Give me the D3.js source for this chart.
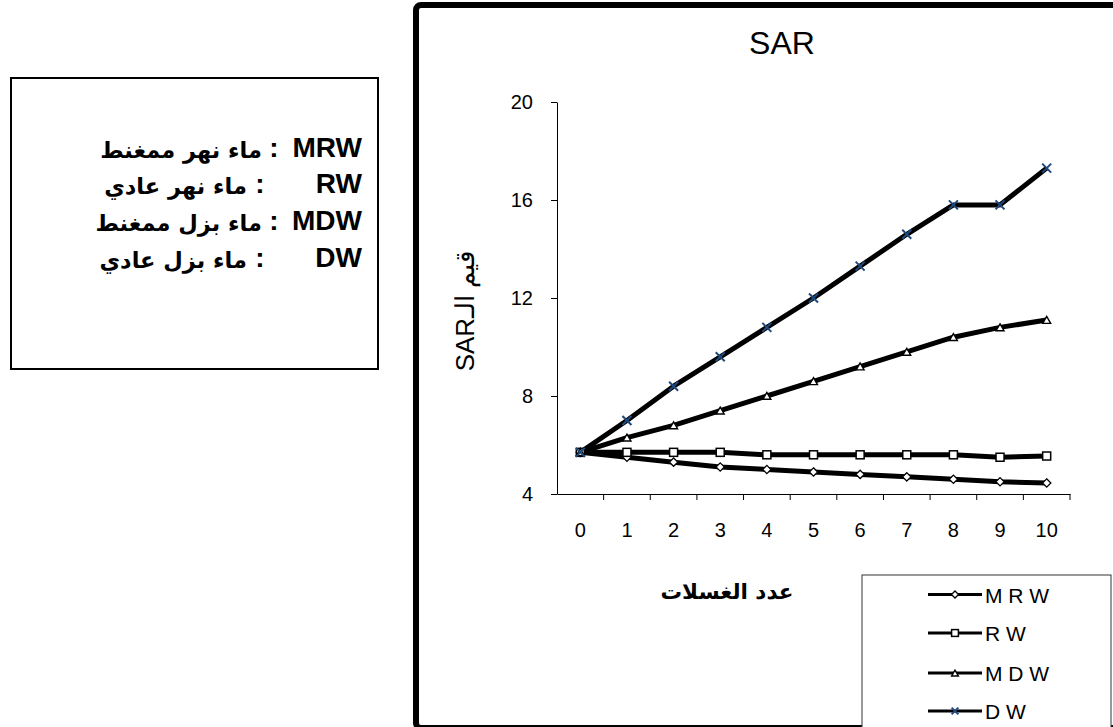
<!DOCTYPE html>
<html>
<head>
<meta charset="utf-8">
<script src="https://cdn.jsdelivr.net/npm/d3@7"></script>
<style>
  html, body { margin: 0; padding: 0; background: #fff; }
  svg { display: block; }
  text { font-family: "Liberation Sans", Arial, sans-serif; }
  .ar { font-family: "DejaVu Sans", "Liberation Sans", sans-serif; }
</style>
</head>
<body>
<svg id="chart" width="1113" height="727"></svg>
<script>
// ---- data ----
const categories = [0, 1, 2, 3, 4, 5, 6, 7, 8, 9, 10];
const seriesNames = ["M R W", "R W", "M D W", "D W"];
const MRW = [5.7, 5.5, 5.3, 5.1, 5.0, 4.9, 4.8, 4.7, 4.6, 4.5, 4.45];
const RW  = [5.7, 5.7, 5.7, 5.7, 5.6, 5.6, 5.6, 5.6, 5.6, 5.5, 5.55];
const MDW = [5.7, 6.3, 6.8, 7.4, 8.0, 8.6, 9.2, 9.8, 10.4, 10.8, 11.1];
const DW  = [5.7, 7.0, 8.4, 9.6, 10.8, 12.0, 13.3, 14.6, 15.8, 15.8, 17.3];
const yTicks = [4, 8, 12, 16, 20];
const title = "SAR";
const xTitle = "عدد الغسلات";
const yTitle = "قيم الـSAR";
const noteCodes = ["MRW", "RW", "MDW", "DW"];
const noteTexts = ["ماء نهر ممغنط", "ماء نهر عادي", "ماء بزل ممغنط", "ماء بزل عادي"];

const svg = d3.select("#chart");

// ---- note box (left) ----
svg.append("rect").attr("x", 11).attr("y", 78).attr("width", 367).attr("height", 291)
  .attr("fill", "#fff").attr("stroke", "#000").attr("stroke-width", 2);
const noteBase = [157, 193, 230, 267];
const colonX = [274, 260, 274, 260];
const arRight = [262, 247, 262, 247];
noteCodes.forEach((c, i) => {
  svg.append("text").attr("x", 362).attr("y", noteBase[i]).attr("text-anchor", "end")
    .attr("font-size", 28).attr("font-weight", "bold").text(c);
  svg.append("text").attr("x", colonX[i]).attr("y", noteBase[i]).attr("text-anchor", "middle")
    .attr("font-size", 28).attr("font-weight", "bold").text(":");
  svg.append("text").attr("class", "ar").attr("x", arRight[i]).attr("y", noteBase[i] + 1)
    .attr("text-anchor", "end").attr("font-size", 22.5).attr("font-weight", "bold")
    .text(noteTexts[i]);
});

// ---- chart frame ----
svg.append("rect").attr("x", 416).attr("y", 5).attr("width", 800).attr("height", 723)
  .attr("rx", 5).attr("fill", "none").attr("stroke", "#000").attr("stroke-width", 6);

// ---- scales ----
const x = d3.scaleBand().domain(categories).range([557, 1070]).padding(0);
const y = d3.scaleLinear().domain([4, 20]).range([494, 102]);

// y axis
const gy = svg.append("g").attr("transform", "translate(557,0)")
  .call(d3.axisLeft(y).tickValues(yTicks).tickSize(6).tickPadding(18).tickSizeOuter(0));
gy.selectAll("text").attr("font-size", 20).attr("fill", "#000")
  .attr("font-family", "'Liberation Sans', Arial, sans-serif");
gy.selectAll("line, path").attr("stroke", "#000");

// x axis (labels at centers, ticks at boundaries)
const gx = svg.append("g").attr("transform", "translate(0,494)")
  .call(d3.axisBottom(x).tickSize(0).tickPadding(29).tickSizeOuter(0));
gx.selectAll("text").attr("font-size", 20).attr("fill", "#000")
  .attr("font-family", "'Liberation Sans', Arial, sans-serif");
gx.select("path").attr("stroke", "#000");
const bounds = categories.map(c => x(c) + x.bandwidth());
gx.selectAll("line.bnd").data(bounds).enter().append("line").attr("class", "bnd")
  .attr("x1", d => d).attr("x2", d => d).attr("y1", 0).attr("y2", 6).attr("stroke", "#000");

// titles
svg.append("text").attr("x", 782).attr("y", 54).attr("text-anchor", "middle")
  .attr("font-size", 32).text(title);
svg.append("text").attr("class", "ar").attr("x", 727).attr("y", 599).attr("text-anchor", "middle")
  .attr("font-size", 21.5).attr("font-weight", "bold").text(xTitle);
svg.append("text").attr("transform", "translate(474,311) rotate(-90)")
  .attr("text-anchor", "middle").attr("direction", "rtl")
  .attr("font-size", 26).text(yTitle);

// ---- series ----
const series = [
  { name: seriesNames[0], values: MRW, marker: "diamond" },
  { name: seriesNames[1], values: RW, marker: "square" },
  { name: seriesNames[2], values: MDW, marker: "triangle" },
  { name: seriesNames[3], values: DW, marker: "x" }
];
const cx = c => x(c) + x.bandwidth() / 2;
const line = d3.line().x((d, i) => cx(categories[i])).y(d => y(d));
const blue = "#1f497d";

function drawMarker(g, type, px, py, scale) {
  const s = scale || 1;
  if (type === "diamond") {
    g.append("path").attr("d", d3.symbol(d3.symbolDiamond2, 44 * s * s)())
      .attr("transform", `translate(${px},${py})`).attr("fill", "#fff")
      .attr("stroke", "#000").attr("stroke-width", 1.3);
  } else if (type === "square") {
    const a = 4 * s;
    g.append("rect").attr("x", px - a).attr("y", py - a).attr("width", 2 * a).attr("height", 2 * a)
      .attr("fill", "#fff").attr("stroke", "#000").attr("stroke-width", 1.5);
  } else if (type === "triangle") {
    g.append("path").attr("d", d3.symbol(d3.symbolTriangle2, 45 * s * s)())
      .attr("transform", `translate(${px},${py + 1})`).attr("fill", "#fff")
      .attr("stroke", "#000").attr("stroke-width", 1.4);
  } else {
    const a = 4.5 * s;
    g.append("path").attr("d", `M${px - a},${py - a}L${px + a},${py + a}M${px - a},${py + a}L${px + a},${py - a}`)
      .attr("stroke", blue).attr("stroke-width", 2).attr("fill", "none");
  }
}

const gs = svg.append("g");
series.forEach(s => {
  gs.append("path").datum(s.values).attr("d", line).attr("fill", "none")
    .attr("stroke", "#000").attr("stroke-width", 5).attr("stroke-linejoin", "round");
});
series.forEach(s => {
  const gm = gs.append("g");
  s.values.forEach((v, i) => {
    drawMarker(gm, s.marker, cx(categories[i]), y(v), 1);
  });
});

// ---- legend ----
svg.append("rect").attr("x", 862).attr("y", 575).attr("width", 249).attr("height", 160)
  .attr("fill", "#fff").attr("stroke", "#333").attr("stroke-width", 1);
const legLineY = [594.5, 633, 673, 711];
series.forEach((s, i) => {
  const g = svg.append("g");
  g.append("line").attr("x1", 928).attr("x2", 982).attr("y1", legLineY[i]).attr("y2", legLineY[i])
    .attr("stroke", "#000").attr("stroke-width", 3);
  const sc = s.marker === "x" ? 0.75 : 0.85;
  drawMarker(g, s.marker, 955, legLineY[i], sc);
  g.append("text").attr("x", 985).attr("y", legLineY[i] + 8).attr("font-size", 21).text(s.name);
});
</script>
</body>
</html>
